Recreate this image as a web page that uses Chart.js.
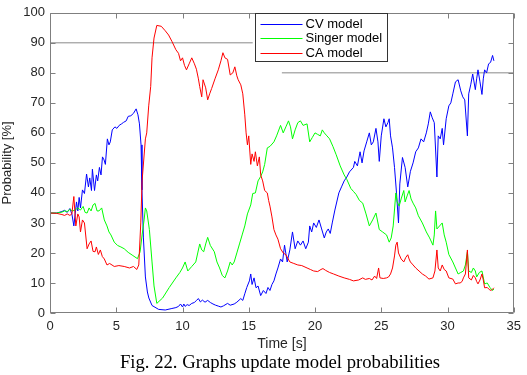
<!DOCTYPE html>
<html><head><meta charset="utf-8">
<script src="https://cdn.jsdelivr.net/npm/chart.js@4.4.1/dist/chart.umd.min.js"></script>
<style>html,body{margin:0;padding:0;background:#fff}#wrap{position:relative;width:527px;height:375px}</style>
</head><body><div id="wrap"><canvas id="c" width="527" height="375"></canvas></div>
<script>
const xTicks=[0,5,10,15,20,25,30,35];
const yTicks=[0,10,20,30,40,50,60,70,80,90,100];
const seriesNames=['CV model','Singer model','CA model'];
const caption='Fig. 22. Graphs update model probabilities';

const cvTime=[0,0.5,0.9,1.1,1.3,1.5,1.65,1.8,1.9,2.0,
2.1,2.2,2.3,2.45,2.6,2.76,2.9,3.0,3.13,3.2,
3.36,3.5,3.6,3.73,3.85,3.96,4.08,4.18,4.33,4.45,
4.55,4.7,4.9,5.05,5.22,5.4,5.55,5.75,5.9,6.1,
6.3,6.5,6.64,6.75,6.87,6.94,7.05,7.2,7.35,7.46,
7.7,8.2,8.7,9.2,9.5,9.7,9.85,10.0,10.1,10.2,
10.35,10.5,10.7,10.9,11.05,11.2,11.35,11.5,11.7,11.9,
12.1,12.3,12.5,12.7,12.9,13.1,13.4,13.6,13.9,14.1,
14.4,14.55,14.7,14.85,15.05,15.15,15.25,15.4,15.55,15.7,
15.9,16.1,16.3,16.45,16.6,16.75,16.9,17.05,17.2,17.4,
17.55,17.7,17.9,18.1,18.3,18.5,18.7,18.9,19.1,19.3,
19.5,19.6,19.75,19.9,20.1,20.3,20.5,20.7,20.85,21.0,
21.15,21.3,21.5,21.8,22.0,22.2,22.4,22.6,22.9,23.0,
23.2,23.4,23.55,23.7,23.9,24.1,24.25,24.4,24.6,24.75,
24.85,25.0,25.2,25.35,25.5,25.6,25.7,25.85,26.0,26.15,
26.3,26.4,26.6,26.8,27.0,27.2,27.4,27.6,27.8,28.0,
28.2,28.4,28.55,28.7,28.85,29.0,29.2,29.3,29.45,29.6,
29.7,29.9,30.1,30.25,30.4,30.6,30.8,31.0,31.15,31.3,
31.5,31.6,31.75,31.9,32.1,32.2,32.3,32.45,32.6,32.7,
32.8,32.95,33.1,33.25,33.4,33.5];
const cvProb=[33.3,33.3,33.8,34.2,33.5,34.8,33,29,33,37,
34,38.5,35,41,39.8,46.3,42,45,40.8,47.9,
40.8,46,44,48.5,46,52,51,49.5,58,56,
57,61,62,61.5,62.5,63,63.5,64,65.5,65.7,
66.5,68,66,63,56,41,25,12,7,5,
2.5,1.2,1.0,1.5,1.8,2.2,3.0,2.0,3.0,2.2,
2.8,2.5,3.2,3.5,4.2,4.8,3.7,4.3,3.6,4.2,
3.5,3.0,2.6,2.3,2.0,2.4,3.2,2.6,3.0,3.6,
4.8,4.2,6.4,8.5,10.7,13,9.5,11.7,8.4,9,
5.8,7.5,6.5,8.5,7.5,9.5,10.7,13,15,18,
17,22.6,17,21,27,21.4,24,22.6,24,21.4,
23.6,29,27,30,28.5,31,28,25,27,28,
26.5,30,34.3,40,42,44,45.3,47,48.5,50.5,
49,53.7,50,54,57,60,56,57,61.5,57,
50.5,59,64.7,62,63.4,64.7,59,55,48.5,40,
30,43,51.8,48.5,42,47.2,50,53.7,55,58,
57,60,63,67,65,63.4,45.3,59,58,61.5,
56,64.7,69,70,73,77,77.7,74,72,71,
59,73,76,79.6,74.4,78,81,77,72.8,78,
81,80,83,83.5,85.8,84];

const sgTime=[0,0.5,0.9,1.1,1.3,1.5,1.7,1.9,2.1,2.3,
2.5,2.65,2.8,2.95,3.1,3.25,3.4,3.55,3.7,3.9,
4.1,4.3,4.45,4.6,4.85,5.1,5.35,5.6,5.9,6.2,
6.6,6.8,6.95,7.1,7.2,7.3,7.5,7.7,7.85,8.06,
8.5,9.0,9.5,9.8,10.0,10.2,10.4,10.7,11.0,11.15,
11.3,11.45,11.6,11.75,11.9,12.1,12.4,12.6,12.8,13.0,
13.2,13.4,13.6,13.75,13.9,14.1,14.3,14.5,14.7,14.9,
15.15,15.3,15.5,15.7,15.9,16.05,16.2,16.4,16.6,16.9,
17.1,17.4,17.6,17.8,18.0,18.15,18.3,18.5,18.7,18.9,
19.1,19.4,19.6,19.8,20.0,20.2,20.4,20.55,20.7,20.9,
21.1,21.35,21.6,21.9,22.2,22.4,22.7,22.9,23.1,23.35,
23.6,23.85,24.1,24.35,24.6,24.85,25.1,25.4,25.6,25.75,
25.9,26.1,26.2,26.35,26.5,26.7,26.8,26.95,27.1,27.25,
27.4,27.6,27.8,28.1,28.4,28.65,28.9,29.0,29.1,29.2,
29.4,29.6,29.75,29.9,30.1,30.4,30.6,30.8,31.0,31.2,
31.35,31.5,31.6,31.8,31.95,32.1,32.2,32.4,32.6,32.8,
33.0,33.2,33.4,33.5];
const sgProb=[33.3,33.3,33.6,34,33.8,34.5,34,34.3,35,34.3,
35.5,33.5,33.3,35,34,36,36.5,34,34,35,
31,29,27,26,23.6,22.5,22,21.4,20.2,19.3,
18.1,20.4,26,31,35,34,27.8,17,9,3.2,
5,8.5,11.7,13.5,15,17,14,15.5,17,20,
23,21,20.4,23,25.2,22.5,20.4,17,15,12.5,
11.7,14,17,16,17,20,23,26,29,33,
36,39.8,40,44,45.5,47,49.5,55,55.5,57,
59,62.5,60,62,64,62,58,61,63.4,64,
62.5,63,57,58.5,60,59.5,59,61,60,59,
58,55.5,52.7,49,46,44.5,41.5,40.5,39.5,37.5,
36.6,33,29,31,33.3,27.8,27,26,23.6,25,
29,40,37,35.6,38,40.8,37,39,40.8,38,
36.6,35,32.4,30,27,25,22.6,26,34,28,
29,30,26,23.6,19.5,17,15,13,13.5,14,
16,20.4,14,13.5,15,14,12,13.5,14,9.7,
10,8.5,7.5,8];

const caTime=[0,0,0.5,0.9,1.1,1.3,1.5,1.65,1.8,1.95,
2.1,2.2,2.3,2.45,2.6,2.8,2.95,3.1,3.25,3.4,
3.5,3.65,3.8,3.95,4.1,4.3,4.5,4.85,5.2,5.6,
6.0,6.3,6.55,6.7,6.85,6.95,7.2,7.3,7.45,7.6,
7.7,7.85,8.06,8.4,8.7,8.95,9.2,9.5,9.7,9.85,
10.0,10.15,10.3,10.5,10.7,10.9,11.05,11.2,11.3,11.45,
11.55,11.75,11.9,12.05,12.2,12.45,12.7,12.9,13.05,13.2,
13.4,13.6,13.8,13.95,14.1,14.2,14.4,14.55,14.7,14.8,
14.9,15.0,15.15,15.25,15.4,15.5,15.65,15.8,15.9,16.05,
16.2,16.4,16.5,16.6,16.75,16.9,17.05,17.2,17.4,17.6,
17.8,18.1,18.4,18.7,19.0,19.4,19.65,19.9,20.2,20.45,
20.6,20.8,21.1,21.4,21.8,22.2,22.6,22.9,23.3,23.6,
23.8,24.1,24.3,24.5,24.65,24.8,24.9,25.15,25.4,25.55,
25.7,25.85,26.0,26.1,26.2,26.3,26.5,26.7,26.85,27.0,
27.1,27.2,27.4,27.6,27.85,28.1,28.35,28.6,28.9,29.05,
29.2,29.3,29.45,29.6,29.75,29.9,30.1,30.4,30.6,30.8,
30.95,31.1,31.2,31.35,31.5,31.6,31.8,31.95,32.1,32.2,
32.3,32.45,32.6,32.7,32.8,33.0,33.15,33.3,33.5];
const caProb=[0,33.3,33.2,32.8,32.5,33,32.5,33,38.8,29,
33,32,27,31,30,21.4,23,24,20.5,20.4,
22,19.5,21,18.8,18,16,16.5,15.5,15.8,15.5,
15,15.5,14.5,16,30,44,58,60,69,75.5,
85,91.6,95.8,95.5,94,92.6,90.5,87.7,86.5,84,
85,82.5,81,83,85,83,81.2,78,75.4,72,
77.7,75,71,73,74.8,78,81,84,86.7,85,
84.5,79.3,80,82,79,77.7,76,73,66,60,
56,59,49.5,53,50.5,53.7,49,52,46,44,
40.8,40,37.5,35.6,32,27.8,26,24.6,21.4,20,
19.4,17,16.5,16,15.8,15,14.5,14,13.8,14.5,
14.8,14.2,13.5,13,12.3,11.7,11.2,10.7,11,11.7,
11.2,11.5,11,12.3,11.5,15,11.7,11.5,11.7,12,
13,15,19,22.6,23.6,20,18,17,18.5,19.4,
18,17,16,15,14,13,12.3,11.3,11.7,14,
21,15,14,16,14.5,14,11.7,11.3,9.7,10,
10,10.5,11.7,13,21,11.7,11,12.5,11.7,10.5,
9.7,11,13,11,8.4,8.5,7.8,7.5,8.4];

// stray horizontal lines visible in the original figure
const line90Time=[0,15.3], line90Val=[90,90];
const line80Time=[17.5,35], line80Val=[80,80];

const zip=(t,v)=>t.map((x,i)=>({x:x,y:v[i]}));
const colors=['#0000ff','#00ff00','#ff0000'];
const FONT='"Liberation Sans", Arial, Helvetica, sans-serif';
const AX='#7f7f7f';

const boxPlugin={id:'box',afterDatasetsDraw(chart){
  const {ctx,chartArea:a,scales:{x,y}}=chart;
  ctx.save();ctx.strokeStyle=AX;ctx.lineWidth=1;
  const L=Math.round(a.left)+0.5,R=Math.round(a.right)-0.5,T=Math.round(a.top)+0.5,B=Math.round(a.bottom)-0.5;
  ctx.beginPath();ctx.rect(L,T,R-L,B-T);ctx.stroke();
  ctx.beginPath();
  xTicks.forEach(v=>{const px=Math.round(x.getPixelForValue(v))+0.5;ctx.moveTo(px,B);ctx.lineTo(px,B-5);ctx.moveTo(px,T);ctx.lineTo(px,T+5);});
  yTicks.forEach(v=>{const py=Math.round(y.getPixelForValue(v))+0.5;ctx.moveTo(L,py);ctx.lineTo(L+5,py);ctx.moveTo(R,py);ctx.lineTo(R-5,py);});
  ctx.stroke();
  // legend
  const lx=255.5,ly=T,lw=132,lh=48;
  ctx.fillStyle='#fff';ctx.fillRect(lx,ly,lw,lh);ctx.strokeStyle='#333';ctx.strokeRect(lx,ly,lw,lh);
  ctx.font='13px '+FONT;ctx.textBaseline='middle';ctx.textAlign='left';
  seriesNames.forEach((n,i)=>{const yy=Math.round(ly+10+i*14.5)+0.5;
    ctx.strokeStyle=colors[i];ctx.beginPath();ctx.moveTo(lx+5,yy);ctx.lineTo(lx+47,yy);ctx.stroke();
    ctx.fillStyle='#000';ctx.fillText(n,lx+50,yy);});
  // caption
  ctx.font='18.7px "Liberation Serif", "Times New Roman", serif';ctx.textAlign='center';ctx.fillStyle='#000';
  ctx.fillText(caption,280,363);
  ctx.restore();
}};

const ds=[
 {label:seriesNames[0],data:zip(cvTime,cvProb),borderColor:colors[0],order:2},
 {label:seriesNames[1],data:zip(sgTime,sgProb),borderColor:colors[1],order:1},
 {label:seriesNames[2],data:zip(caTime,caProb),borderColor:colors[2],order:0},
 {label:'l90',data:zip(line90Time,line90Val),borderColor:'#8a8a8a',order:3},
 {label:'l80',data:zip(line80Time,line80Val),borderColor:'#8a8a8a',order:3}
].map(d=>Object.assign({borderWidth:1,pointRadius:0,tension:0,fill:false},d));

new Chart(document.getElementById('c'),{
 type:'line',
 data:{datasets:ds},
 options:{responsive:false,animation:false,devicePixelRatio:1,
  layout:{padding:{top:4,right:8,left:0,bottom:0}},
  plugins:{legend:{display:false},tooltip:{enabled:false}},
  scales:{
   x:{type:'linear',min:0,max:35,
      afterBuildTicks:s=>{s.ticks=xTicks.map(v=>({value:v}));},
      afterFit:s=>{s.height=62;},
      grid:{display:false,drawTicks:false},border:{display:false},
      ticks:{padding:6,color:'#262626',font:{family:FONT,size:13},maxRotation:0},
      title:{display:true,text:'Time [s]',color:'#262626',font:{family:FONT,size:14},padding:{top:0,bottom:22}}},
   y:{min:0,max:100,
      afterBuildTicks:s=>{s.ticks=yTicks.map(v=>({value:v}));},
      afterFit:s=>{s.width=50;},
      grid:{display:false,drawTicks:false},border:{display:false},
      ticks:{padding:5,color:'#262626',font:{family:FONT,size:13}},
      title:{display:true,text:'Probability [%]',color:'#262626',font:{family:FONT,size:13},padding:0}}
  }},
 plugins:[boxPlugin]
});
</script></body></html>
